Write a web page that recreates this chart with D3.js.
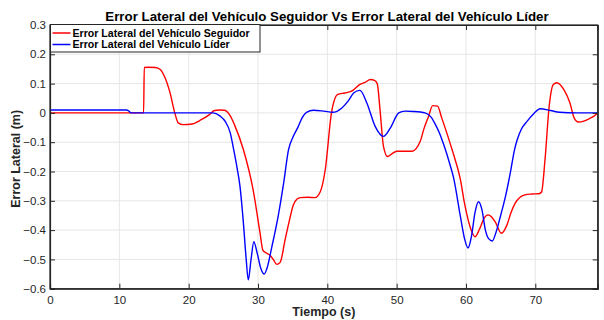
<!DOCTYPE html>
<html><head><meta charset="utf-8">
<script src="https://cdn.jsdelivr.net/npm/d3@7"></script>
<style>body{margin:0;background:#fff;} text{font-family:"Liberation Sans",Arial,Helvetica,sans-serif;}</style>
</head><body>
<svg id="c" width="604" height="320"></svg>
<script>
const title = "Error Lateral del Vehículo Seguidor Vs Error Lateral del Vehículo Líder";
const xLabel = "Tiempo (s)";
const yLabel = "Error Lateral (m)";
const seriesNames = ["Error Lateral del Vehículo Seguidor", "Error Lateral del Vehículo Líder"];
const xTicks = [0,10,20,30,40,50,60,70];
const yTicks = [0.3,0.2,0.1,0,-0.1,-0.2,-0.3,-0.4,-0.5,-0.6];

const timeSeguidor = [0,13.5,13.6,14.2,15.2,15.9,16.5,17.3,18.0,18.5,19.2,20.5,21.6,23.0,23.7,24.5,25.2,26.0,26.6,27.9,29.3,30.3,30.7,31.2,31.7,32.2,32.7,33.2,33.9,34.5,35.1,35.6,36.1,37.2,38.2,39.0,39.7,40.6,41.5,42.5,43.5,44.7,45.5,46.2,46.8,47.2,47.6,48.1,48.7,49.3,50.0,51.0,52.2,53.4,53.9,54.6,55.2,55.9,56.5,58.0,59.2,59.8,60.8,61.3,62.0,62.6,63.2,63.7,64.2,65.1,65.9,66.5,67.1,67.8,68.5,69.5,70.5,70.9,71.4,72.0,72.6,73.1,74.1,75.0,75.6,76.2,77.0,77.7,78.4,79];
const errSeguidor  = [0,0,0.155,0.156,0.155,0.148,0.125,0.07,0,-0.034,-0.04,-0.038,-0.026,-0.006,0.008,0.01,0.009,-0.01,-0.04,-0.126,-0.263,-0.41,-0.468,-0.478,-0.485,-0.50,-0.517,-0.51,-0.434,-0.37,-0.314,-0.295,-0.289,-0.288,-0.289,-0.268,-0.194,0,0.063,0.068,0.074,0.097,0.105,0.114,0.111,0.100,0.011,-0.114,-0.149,-0.14,-0.131,-0.131,-0.131,-0.097,-0.057,-0.012,0.025,0.023,-0.017,-0.126,-0.228,-0.31,-0.403,-0.423,-0.394,-0.36,-0.348,-0.355,-0.371,-0.411,-0.383,-0.34,-0.308,-0.288,-0.28,-0.277,-0.276,-0.27,-0.16,0.023,0.097,0.103,0.08,0.034,-0.017,-0.031,-0.028,-0.021,-0.012,0];

const timeLider = [0,11.0,11.3,11.7,22.0,23.5,24.5,25.3,26.0,26.5,27.0,27.4,27.9,28.3,28.6,29.0,29.4,29.9,30.4,30.9,31.3,32.0,32.9,33.7,34.4,35.1,35.8,36.4,37.0,38.0,39.5,40.8,42.1,43.0,43.8,44.7,45.7,46.9,48.1,49.1,50.3,51.2,52.4,54.1,55.0,55.6,56.2,56.8,57.7,58.2,59.2,59.8,60.3,60.8,61.3,61.8,62.3,62.8,63.3,63.8,64.3,65.0,65.7,66.4,67.0,67.4,68.0,68.8,69.8,70.7,72.2,73.5,76,79];
const errLider  = [0.01,0.01,0.008,0,0,0,-0.01,-0.03,-0.068,-0.126,-0.19,-0.25,-0.377,-0.50,-0.57,-0.50,-0.44,-0.48,-0.53,-0.55,-0.53,-0.457,-0.354,-0.24,-0.126,-0.08,-0.047,-0.015,0.002,0.009,0.006,0.002,0.017,0.04,0.068,0.077,0.034,-0.046,-0.08,-0.051,0,0.006,0.005,0,-0.015,-0.04,-0.07,-0.109,-0.177,-0.22,-0.354,-0.43,-0.461,-0.42,-0.34,-0.303,-0.33,-0.40,-0.43,-0.437,-0.41,-0.35,-0.285,-0.204,-0.126,-0.091,-0.055,-0.029,-0.002,0.014,0.008,0.002,0,0];

const svg = d3.select("#c");
const L = 50, R = 597.7, T = 25, B = 288.7;
const x = d3.scaleLinear().domain([0,79]).range([L,R]);
const y = d3.scaleLinear().domain([-0.6,0.3]).range([B,T]);
const axisCol = "#262626";

// grid
const g = svg.append("g");
g.selectAll("line.gx").data(xTicks).join("line")
 .attr("x1",d=>x(d)).attr("x2",d=>x(d)).attr("y1",T).attr("y2",B)
 .attr("stroke","#e6e6e6").attr("stroke-width",1);
g.selectAll("line.gy").data(yTicks).join("line")
 .attr("y1",d=>y(d)).attr("y2",d=>y(d)).attr("x1",L).attr("x2",R)
 .attr("stroke","#e6e6e6").attr("stroke-width",1);

// lines
const mk = (ts, vs) => ts.map((t,i)=>[t,vs[i]]);
const line = d3.line().x(d=>x(d[0])).y(d=>y(d[1])).curve(d3.curveMonotoneX);
svg.append("path").datum(mk(timeSeguidor,errSeguidor)).attr("d",line)
 .attr("fill","none").attr("stroke","#ff0000").attr("stroke-width",1.4);
svg.append("path").datum(mk(timeLider,errLider)).attr("d",line)
 .attr("fill","none").attr("stroke","#0000ff").attr("stroke-width",1.4);

// axes
const tl = 5;
const axB = svg.append("g").attr("transform",`translate(0,${B})`)
 .call(d3.axisBottom(x).tickValues(xTicks).tickSize(-tl).tickFormat(d3.format("d")));
const axT = svg.append("g").attr("transform",`translate(0,${T})`)
 .call(d3.axisTop(x).tickValues(xTicks).tickSize(-tl).tickFormat(""));
const axL = svg.append("g").attr("transform",`translate(${L},0)`)
 .call(d3.axisLeft(y).tickValues(yTicks).tickSize(-tl).tickFormat(d=>d===0?"0":d3.format(".1f")(d)));
const axR = svg.append("g").attr("transform",`translate(${R},0)`)
 .call(d3.axisRight(y).tickValues(yTicks).tickSize(-tl).tickFormat(""));
[axB,axT,axL,axR].forEach(a=>{
  a.select(".domain").attr("stroke",axisCol).attr("stroke-width",1.2);
  a.selectAll(".tick line").attr("stroke",axisCol);
  a.selectAll("text").attr("fill",axisCol).style("font-size","11.5px")
   .style("font-family","'Liberation Sans',Arial,sans-serif");
});
axB.selectAll("text").attr("dy","0.71em").attr("y",7);
axL.selectAll("text").attr("x",-4);
svg.append("rect").attr("x",L).attr("y",T).attr("width",R-L).attr("height",B-T)
 .attr("fill","none").attr("stroke",axisCol).attr("stroke-width",1.2);

// title
svg.append("text").attr("x",327).attr("y",21).attr("text-anchor","middle")
 .style("font-size","13.3px").style("font-weight","bold").attr("fill","#000").text(title);
// x label
svg.append("text").attr("x",(L+R)/2).attr("y",316).attr("text-anchor","middle")
 .style("font-size","12.5px").style("font-weight","bold").attr("fill","#262626").text(xLabel);
// y label
svg.append("text").attr("transform",`translate(20,${(T+B)/2+2}) rotate(-90)`).attr("text-anchor","middle")
 .style("font-size","12.5px").style("font-weight","bold").attr("fill","#262626").text(yLabel);

// legend
const lg = svg.append("g");
lg.append("rect").attr("x",50.5).attr("y",24.5).attr("width",209.5).attr("height",27.5)
 .attr("fill","#fff").attr("stroke",axisCol).attr("stroke-width",1);
const cols = ["#ff0000","#0000ff"];
seriesNames.forEach((n,i)=>{
  const yy = 33 + i*11.5;
  lg.append("line").attr("x1",52.5).attr("x2",70.5).attr("y1",yy).attr("y2",yy)
    .attr("stroke",cols[i]).attr("stroke-width",1.5);
  lg.append("text").attr("x",72.5).attr("y",yy).attr("dy","0.35em")
    .style("font-size","10.6px").style("font-weight","bold").attr("fill","#000").text(n);
});
</script>
</body></html>
